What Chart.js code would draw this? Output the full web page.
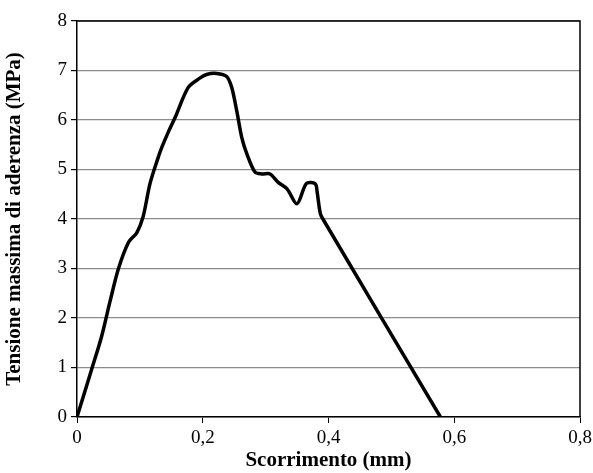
<!DOCTYPE html>
<html>
<head>
<meta charset="utf-8">
<script src="https://cdn.jsdelivr.net/npm/chart.js@4"></script>
<style>
  html, body { margin: 0; padding: 0; background: #fff; }
  #wrap { width: 593px; height: 473px; }
</style>
</head>
<body>
<div id="wrap"><canvas id="bondChart"></canvas></div>
<script>
// slip (mm) and bond stress (MPa)
var slip = [0, 0.023, 0.039, 0.053, 0.066, 0.082, 0.095, 0.105, 0.116, 0.128, 0.135, 0.145, 0.156, 0.177, 0.196, 0.206, 0.222, 0.238, 0.246, 0.254, 0.262, 0.270, 0.283, 0.294, 0.307, 0.320, 0.334, 0.350, 0.365, 0.379, 0.382, 0.387, 0.392, 0.578];
var stress = [0, 0.95, 1.62, 2.36, 3.0, 3.53, 3.72, 4.04, 4.71, 5.2, 5.45, 5.75, 6.05, 6.66, 6.85, 6.92, 6.94, 6.88, 6.66, 6.19, 5.65, 5.32, 4.95, 4.91, 4.91, 4.74, 4.61, 4.31, 4.72, 4.71, 4.54, 4.11, 3.98, 0];
var xTicks = [0, 0.2, 0.4, 0.6, 0.8];
var yMax = 8;

var pts = slip.map(function (s, i) { return {x: s, y: stress[i]}; });

var frame = {
  id: 'frame',
  afterDraw: function (chart) {
    var a = chart.chartArea, c = chart.ctx;
    c.save();
    c.strokeStyle = '#000';
    c.lineWidth = 1.5;
    c.beginPath();
    c.moveTo(a.left, a.top);
    c.lineTo(a.right, a.top);
    c.lineTo(a.right, a.bottom);
    c.stroke();
    c.restore();
  }
};

var serif = "'Liberation Serif', 'Times New Roman', serif";

new Chart(document.getElementById('bondChart'), {
  type: 'line',
  data: {
    datasets: [{
      data: pts,
      borderColor: '#000',
      borderWidth: 3.5,
      pointRadius: 0,
      tension: 0.3,
      fill: false
    }]
  },
  options: {
    responsive: true,
    maintainAspectRatio: false,
    animation: false,
    layout: { padding: { top: 21, right: 13, left: 0, bottom: 0 } },
    plugins: { legend: { display: false }, tooltip: { enabled: false } },
    scales: {
      x: {
        type: 'linear',
        min: 0, max: 0.8,
        afterBuildTicks: function (ax) { ax.ticks = xTicks.map(function (v) { return {value: v}; }); },
        afterFit: function (ax) { ax.height = 56; ax.paddingRight = 0; ax.paddingLeft = 0; },
        border: { color: '#000', width: 1.5 },
        grid: { drawOnChartArea: false, drawTicks: true, tickLength: 6, color: '#000' },
        ticks: {
          color: '#000',
          font: { family: serif, size: 19 },
          padding: 4,
          callback: function (v) { return v === 0 ? '0' : v.toFixed(1).replace('.', ','); }
        },
        title: {
          display: true,
          text: 'Scorrimento (mm)',
          color: '#000',
          font: { family: serif, size: 21, weight: 'bold' },
          padding: { top: 0, bottom: 0 }
        }
      },
      y: {
        min: 0, max: yMax,
        afterFit: function (ax) { ax.width = 77; },
        border: { color: '#000', width: 1.5 },
        grid: { color: '#8c8c8c', lineWidth: 1.2, tickColor: '#000', tickLength: 6 },
        ticks: {
          stepSize: 1,
          color: '#000',
          font: { family: serif, size: 19 },
          padding: 4
        },
        title: {
          display: true,
          text: 'Tensione massima di aderenza (MPa)',
          color: '#000',
          font: { family: serif, size: 21, weight: 'bold' },
          padding: { top: 2, bottom: 4 }
        }
      }
    }
  },
  plugins: [frame]
});
</script>
</body>
</html>
